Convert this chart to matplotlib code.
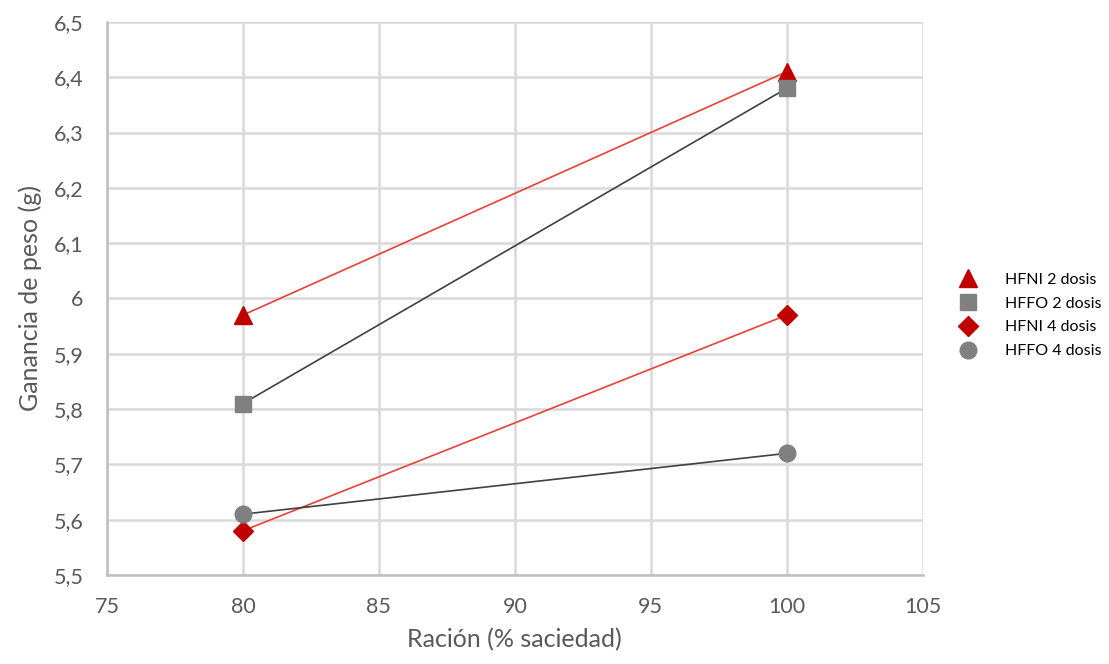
import matplotlib
matplotlib.use('Agg')
import matplotlib.pyplot as plt

plt.rcParams['font.family'] = ['Lato', 'DejaVu Sans']

racion = [80, 100]
hfni_2 = [5.97, 6.41]
hffo_2 = [5.81, 6.38]
hfni_4 = [5.58, 5.97]
hffo_4 = [5.61, 5.72]

red = '#C00000'
grey = '#808080'

fig = plt.figure(figsize=(11.09, 6.64), dpi=100)
ax = fig.add_axes([0.0965, 0.134, 0.7355, 0.833])

# trend lines
ax.plot(racion, hfni_2, color='#E8403A', lw=1.2, zorder=2)
ax.plot(racion, hffo_2, color='#404040', lw=1.2, zorder=2)
ax.plot(racion, hfni_4, color='#E8403A', lw=1.2, zorder=2)
ax.plot(racion, hffo_4, color='#404040', lw=1.2, zorder=2)

ax.plot(racion, hfni_2, ls='none', marker='^', ms=13, color=red, label='HFNI 2 dosis', zorder=3)
ax.plot(racion, hffo_2, ls='none', marker='s', ms=12, color=grey, label='HFFO 2 dosis', zorder=3)
ax.plot(racion, hfni_4, ls='none', marker='D', ms=10, color=red, label='HFNI 4 dosis', zorder=3)
ax.plot(racion, hffo_4, ls='none', marker='o', ms=12, color=grey, label='HFFO 4 dosis', zorder=3)

ax.set_xlim(75, 105)
ax.set_ylim(5.5, 6.5)
ax.set_xticks(range(75, 106, 5))
yt = [5.5 + 0.1 * i for i in range(11)]
ax.set_yticks(yt)
ax.set_yticklabels([('%.1f' % v).replace('.', ',').replace(',0', '') for v in yt])

ax.grid(True, color='#D9D9D9', lw=1.8, zorder=0)
ax.set_axisbelow(True)
for s in ['top', 'right']:
    ax.spines[s].set_visible(False)
for s in ['left', 'bottom']:
    ax.spines[s].set_color('#BFBFBF')
    ax.spines[s].set_linewidth(1.8)
ax.tick_params(axis='y', length=0, pad=17, labelsize=15.5, colors='#595959')
ax.tick_params(axis='x', length=0, pad=16, labelsize=15.5, colors='#595959')

ax.set_xlabel('Ración (% saciedad)', fontsize=18, color='#595959', labelpad=8)
ax.set_ylabel('Ganancia de peso (g)', fontsize=18, color='#595959', labelpad=8)

leg = fig.legend(loc='center left', bbox_to_anchor=(0.849, 0.525), frameon=False,
                 fontsize=11.5, handlelength=1.5, handletextpad=1.6, labelspacing=0.6)

fig.savefig('out.png', dpi=100)
